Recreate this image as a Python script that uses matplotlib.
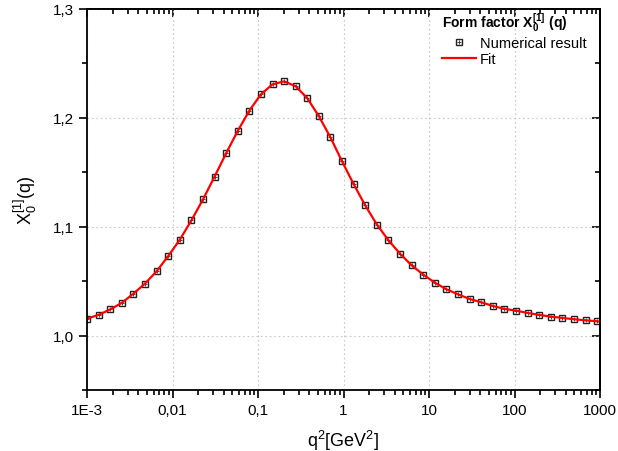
import matplotlib
matplotlib.use("Agg")
import matplotlib.pyplot as plt
from matplotlib.ticker import LogLocator, MultipleLocator, NullFormatter

plt.rcParams['font.family'] = ['Liberation Sans', 'DejaVu Sans']
plt.rcParams['mathtext.fontset'] = 'custom'
plt.rcParams['mathtext.rm'] = 'Liberation Sans'
plt.rcParams['mathtext.default'] = 'regular'

# numerical result
q2 = [0.001, 0.001367, 0.001867, 0.002551, 0.003487, 0.004764, 0.006511, 0.008897,
      0.01216, 0.01661, 0.0227, 0.03102, 0.04239, 0.05793, 0.07916, 0.1081,
      0.1478, 0.2019, 0.2759, 0.3771, 0.5152, 0.704, 0.962, 1.315,
      1.796, 2.455, 3.355, 4.584, 6.264, 8.559, 11.70, 15.98,
      21.84, 29.84, 40.78, 55.72, 76.14, 104.0, 142.2, 194.3,
      265.5, 362.8, 495.7, 677.4, 925.6]
x0 = [1.0156, 1.019, 1.024, 1.030, 1.0385, 1.0477, 1.059, 1.073,
      1.088, 1.1057, 1.125, 1.146, 1.1675, 1.188, 1.2066, 1.2216,
      1.2308, 1.2335, 1.229, 1.218, 1.2015, 1.182, 1.160, 1.139,
      1.1195, 1.102, 1.0875, 1.0752, 1.0645, 1.056, 1.0486, 1.0425,
      1.0379, 1.0336, 1.0306, 1.0272, 1.0245, 1.0229, 1.0208, 1.019,
      1.0174, 1.0162, 1.0150, 1.014, 1.0131]

# fit curve: same points plus the end of the axis
fit_q2 = q2 + [1000]
fit_x0 = x0 + [1.0128]

xticks = [1e-3, 1e-2, 1e-1, 1, 10, 100, 1000]
xticklabels = ["1E-3", "0,01", "0,1", "1", "10", "100", "1000"]
yticks = [1.0, 1.1, 1.2, 1.3]
yticklabels = ["1,0", "1,1", "1,2", "1,3"]

fig = plt.figure(figsize=(6.18, 4.52), dpi=100)
ax = fig.add_axes([0.1408, 0.135, 0.8301, 0.8429])

sq, = ax.plot(q2, x0, linestyle="", marker="s", markersize=5,
              markerfacecolor="none", markeredgecolor="#222222", markeredgewidth=1.0)
pl, = ax.plot(q2, x0, linestyle="", marker="+", markersize=3.2,
              markeredgecolor="#444444", markeredgewidth=0.7)
fit, = ax.plot(fit_q2, fit_x0, color="red", linewidth=1.6)

ax.set_xscale("log")
ax.set_xlim(1e-3, 1000)
ax.set_ylim(0.95, 1.3)

ax.set_xticks(xticks)
ax.set_xticklabels(xticklabels)
ax.xaxis.set_minor_locator(LogLocator(base=10, subs=range(2, 10), numticks=20))
ax.xaxis.set_minor_formatter(NullFormatter())
ax.set_yticks(yticks)
ax.set_yticklabels(yticklabels)
ax.yaxis.set_minor_locator(MultipleLocator(0.05))

ax.tick_params(which="both", labelsize=11, direction="out", width=1.2,
               top=False, right=False)
ax.tick_params(which="major", length=6)
ax.tick_params(which="minor", length=3.5)

# inward ticks on top and right, like the original
top = ax.secondary_xaxis("top")
top.set_xticks(xticks)
top.xaxis.set_minor_locator(LogLocator(base=10, subs=range(2, 10), numticks=20))
top.tick_params(which="both", direction="in", labeltop=False, width=1.2)
top.tick_params(which="major", length=6)
top.tick_params(which="minor", length=3.5)
right = ax.secondary_yaxis("right")
right.set_yticks(yticks)
right.yaxis.set_minor_locator(MultipleLocator(0.05))
right.tick_params(which="both", direction="in", labelright=False, width=1.2)
right.tick_params(which="major", length=6)
right.tick_params(which="minor", length=3.5)

for s in ax.spines.values():
    s.set_linewidth(1.3)
top.spines["top"].set_linewidth(1.3)
right.spines["right"].set_linewidth(1.3)

ax.grid(True, which="major", color="#c8c8c8", linestyle=(0, (1.5, 2.5)), linewidth=0.8)

ax.set_xlabel("q$^2$[GeV$^2$]", fontsize=13, labelpad=8)
ax.set_ylabel("X$_0^{[1]}$(q)", fontsize=13, labelpad=10)

leg = ax.legend([(sq, pl), fit], ["Numerical result", "Fit"],
                title="Form factor X$_0^{[1]}$ (q)", loc="upper left",
                bbox_to_anchor=(0.692, 0.995), alignment="left",
                frameon=False, fontsize=10.5, handlelength=2.3,
                borderpad=0, borderaxespad=0, labelspacing=0.15,
                handletextpad=0.3)
leg.get_title().set_fontweight("bold")
leg.get_title().set_fontsize(10)

fig.savefig("out.png", dpi=100)
